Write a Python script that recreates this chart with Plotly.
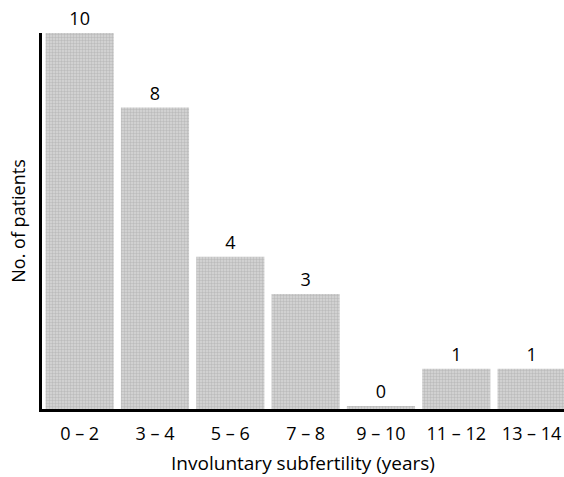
import plotly.graph_objects as go

categories = ["0 – 2", "3 – 4", "5 – 6", "7 – 8", "9 – 10", "11 – 12", "13 – 14"]
patients = [10, 8, 4, 3, 0, 1, 1]

FONT = "'Open Sans', Lato, sans-serif"
FLOOR = -0.08  # axis sits slightly below zero so an empty bin shows a sliver

fig = go.Figure(
    go.Bar(
        x=categories,
        y=[v - FLOOR for v in patients],
        base=FLOOR,
        text=[str(v) for v in patients],
        textposition="outside",
        cliponaxis=False,
        textfont=dict(family=FONT, size=18, color="black"),
        hoverinfo="skip",
        marker=dict(
            color="#cfcfcf",
            line=dict(width=0),
            pattern=dict(shape=".", size=3, solidity=0.5, fgcolor="#a0a0a0", bgcolor="#d8d8d8"),
        ),
    )
)

fig.update_layout(
    width=564,
    height=477,
    margin=dict(l=42, r=0, t=33, b=68),
    paper_bgcolor="white",
    plot_bgcolor="white",
    bargap=0.095,
    showlegend=False,
    font=dict(family=FONT, size=18, color="black"),
    xaxis=dict(
        type="category",
        range=[-0.5, 6.43],
        showline=True,
        linecolor="black",
        linewidth=3,
        ticks="outside",
        ticklen=6,
        tickcolor="rgba(0,0,0,0)",
        showgrid=False,
        tickfont=dict(family=FONT, size=18, color="black"),
        title=dict(text="Involuntary subfertility (years)", font=dict(family=FONT, size=19), standoff=14),
    ),
    yaxis=dict(
        range=[FLOOR, 10],
        showline=True,
        linecolor="black",
        linewidth=3,
        showticklabels=False,
        ticks="",
        showgrid=False,
        zeroline=False,
        title=dict(text="No. of patients", font=dict(family=FONT, size=18), standoff=9),
    ),
)

fig.write_html(
    "out.html",
    config={"displayModeBar": False},
    post_script="document.body.style.margin='0';",
)
